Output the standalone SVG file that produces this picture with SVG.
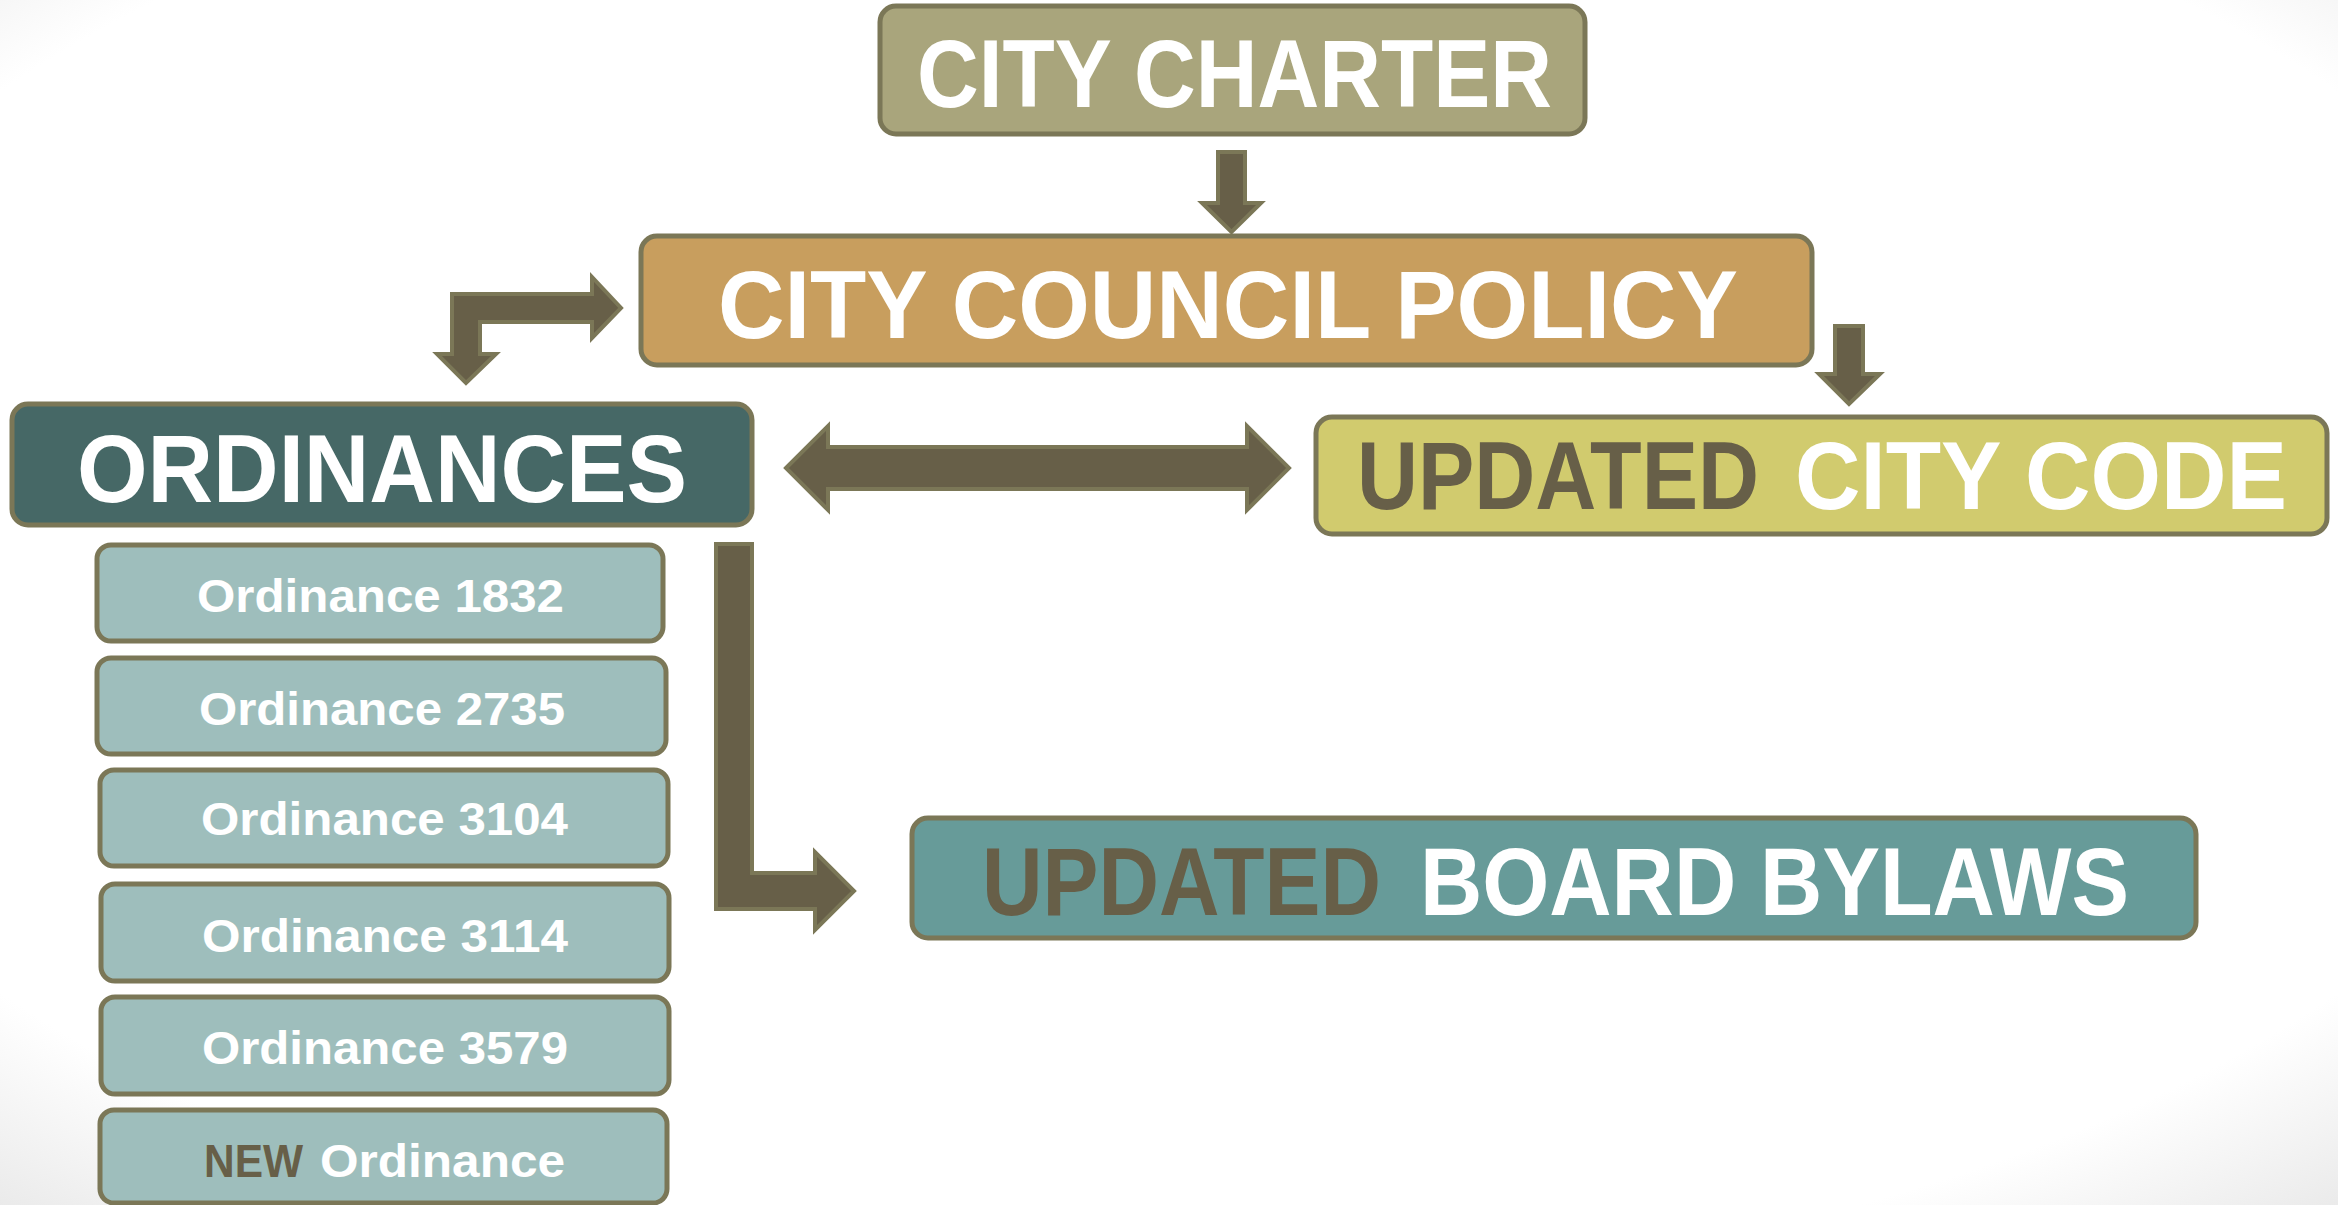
<svg xmlns="http://www.w3.org/2000/svg" width="2338" height="1205" viewBox="0 0 2338 1205">
<defs>
<radialGradient id="bg" cx="50%" cy="45%" r="78%">
<stop offset="0.8" stop-color="#ffffff"/>
<stop offset="1" stop-color="#e4e4e4"/>
</radialGradient>
<style>
.box{stroke:#7B7757;stroke-width:5}
.arrow{fill:#675F48;stroke:#7B7757;stroke-width:4;stroke-linejoin:miter}
.t{font-family:"Liberation Sans",Arial,sans-serif;font-weight:bold;fill:#ffffff}
.big{font-size:96px}
.small{font-size:46px}
.dark{fill:#675F48}
.sub{fill:#9EBEBC}
</style>
</defs>
<rect x="0" y="0" width="2338" height="1205" fill="url(#bg)"/>

<g id="connectors">
<polygon class="arrow" points="1218,152 1245,152 1245,203 1261,203 1231.5,232 1202,203 1218,203"/>
<polygon class="arrow" points="1835,326 1863,326 1863,374 1880,374 1849,404 1819,374 1835,374"/>
<polygon class="arrow" points="452,294 592,294 592,277 621,308 592,338 592,322 480,322 480,354 496,354 466,383 437,354 452,354"/>
<polygon class="arrow" points="786,468 828,426 828,447 1247,447 1247,426 1289,468 1247,510 1247,489 828,489 828,510"/>
<polygon class="arrow" points="716,544 752,544 752,873 815,873 815,852 854,891 815,930 815,909 716,909"/>
</g>

<g id="city-charter">
<rect class="box" x="880" y="6" width="705" height="128" rx="16" fill="#A9A57C"/>
<text class="t big" x="917" y="107" textLength="635" lengthAdjust="spacingAndGlyphs">CITY CHARTER</text>
</g>

<g id="city-council-policy">
<rect class="box" x="641" y="236" width="1171" height="129" rx="16" fill="#C89E5E"/>
<text class="t big" x="718" y="338" textLength="1020" lengthAdjust="spacingAndGlyphs">CITY COUNCIL POLICY</text>
</g>

<g id="updated-city-code">
<rect class="box" x="1316" y="417" width="1011" height="117" rx="16" fill="#D1CB6E"/>
<text class="t big dark" x="1357" y="509" textLength="402" lengthAdjust="spacingAndGlyphs">UPDATED</text>
<text class="t big" x="1795" y="509" textLength="492" lengthAdjust="spacingAndGlyphs">CITY CODE</text>
</g>

<g id="ordinances">
<rect class="box" x="12" y="404" width="740" height="121" rx="16" fill="#466866"/>
<text class="t big" x="77" y="502" textLength="610" lengthAdjust="spacingAndGlyphs">ORDINANCES</text>
</g>

<g id="ordinance-1832">
<rect class="box sub" x="97" y="545" width="566" height="96" rx="14"/>
<text class="t small" x="197" y="612" textLength="367" lengthAdjust="spacingAndGlyphs">Ordinance 1832</text>
</g>
<g id="ordinance-2735">
<rect class="box sub" x="97" y="658" width="569" height="96" rx="14"/>
<text class="t small" x="199" y="725" textLength="366" lengthAdjust="spacingAndGlyphs">Ordinance 2735</text>
</g>
<g id="ordinance-3104">
<rect class="box sub" x="100" y="770" width="568" height="96" rx="14"/>
<text class="t small" x="201" y="835" textLength="367" lengthAdjust="spacingAndGlyphs">Ordinance 3104</text>
</g>
<g id="ordinance-3114">
<rect class="box sub" x="101" y="884" width="568" height="97" rx="14"/>
<text class="t small" x="202" y="952" textLength="366" lengthAdjust="spacingAndGlyphs">Ordinance 3114</text>
</g>
<g id="ordinance-3579">
<rect class="box sub" x="101" y="997" width="568" height="97" rx="14"/>
<text class="t small" x="202" y="1064" textLength="366" lengthAdjust="spacingAndGlyphs">Ordinance 3579</text>
</g>
<g id="new-ordinance">
<rect class="box sub" x="100" y="1110" width="567" height="93" rx="14"/>
<text class="t small dark" x="204" y="1177" textLength="99" lengthAdjust="spacingAndGlyphs">NEW</text>
<text class="t small" x="320" y="1177" textLength="245" lengthAdjust="spacingAndGlyphs">Ordinance</text>
</g>

<g id="updated-board-bylaws">
<rect class="box" x="912" y="818" width="1284" height="120" rx="16" fill="#679B99"/>
<text class="t big dark" x="982" y="915" textLength="399" lengthAdjust="spacingAndGlyphs">UPDATED</text>
<text class="t big" x="1420" y="915" textLength="709" lengthAdjust="spacingAndGlyphs">BOARD BYLAWS</text>
</g>
</svg>
